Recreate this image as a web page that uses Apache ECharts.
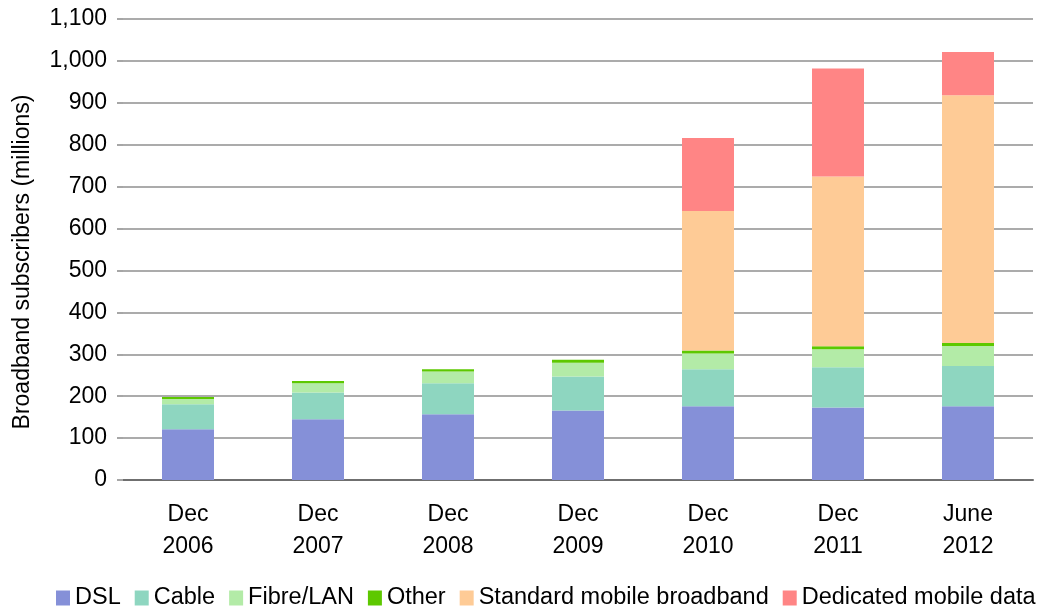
<!DOCTYPE html>
<html>
<head>
<meta charset="utf-8">
<script src="https://cdn.jsdelivr.net/npm/echarts@6/dist/echarts.min.js"></script>
<style>
  html, body { margin: 0; padding: 0; background: #fff; }
  #chart { width: 1041px; height: 607px; }
</style>
</head>
<body>
<div id="chart"></div>
<script>
// Broadband subscribers by technology (millions)
const categories = ['Dec\n2006', 'Dec\n2007', 'Dec\n2008', 'Dec\n2009', 'Dec\n2010', 'Dec\n2011', 'June\n2012'];
const dsl        = [121, 145, 157, 166, 176, 173, 176];
const cable      = [60, 64, 74, 81, 88, 96, 96];
const fibreLan   = [12, 22, 28, 33, 38, 43, 48];
const other      = [5, 5, 5, 7, 7, 7, 7];
const stdMobile  = [0, 0, 0, 0, 333, 405, 591];
const dedMobile  = [0, 0, 0, 0, 174, 258, 103];

const seriesDefs = [
  { name: 'DSL', data: dsl, color: '#8590d8' },
  { name: 'Cable', data: cable, color: '#8ed6c0' },
  { name: 'Fibre/LAN', data: fibreLan, color: '#b3eba7' },
  { name: 'Other', data: other, color: '#5dc800' },
  { name: 'Standard mobile broadband', data: stdMobile, color: '#fecb96' },
  { name: 'Dedicated mobile data', data: dedMobile, color: '#ff8585' }
];

const font = 'Liberation Sans, Arial, Helvetica, sans-serif';
const chart = echarts.init(document.getElementById('chart'));

chart.setOption({
  animation: false,
  backgroundColor: '#ffffff',
  textStyle: { fontFamily: font, color: '#000' },
  grid: { left: 123, right: 8, top: 19, bottom: 127, containLabel: false },
  legend: {
    left: 51,
    top: 581,
    width: 2000,
    itemGap: 14,
    itemWidth: 14,
    itemHeight: 15,
    icon: 'rect',
    textStyle: { fontFamily: font, fontSize: 23.5, color: '#000' },
    data: seriesDefs.map(s => s.name)
  },
  xAxis: {
    type: 'category',
    data: categories,
    axisLine: { show: true, lineStyle: { color: '#6f6f6f', width: 2 } },
    axisTick: { show: false },
    axisLabel: {
      fontFamily: font, fontSize: 23, color: '#000',
      lineHeight: 32, margin: 19, interval: 0
    }
  },
  yAxis: {
    type: 'value',
    min: 0,
    max: 1100,
    interval: 100,
    name: 'Broadband subscribers (millions)',
    nameLocation: 'middle',
    nameRotate: 90,
    nameGap: 89,
    nameTextStyle: { fontFamily: font, fontSize: 23, color: '#000', padding: [0, 25, 0, 0] },
    axisLine: { show: false },
    axisTick: { show: true, length: 6, lineStyle: { color: '#a6a6a6', width: 2 } },
    axisLabel: {
      fontFamily: font, fontSize: 23, color: '#000', margin: 16,
      formatter: v => v.toLocaleString('en-US')
    },
    splitLine: { show: true, lineStyle: { color: '#ababab', width: 2 } }
  },
  series: seriesDefs.map(s => ({
    name: s.name,
    type: 'bar',
    stack: 'total',
    barWidth: '40%',
    itemStyle: { color: s.color },
    data: s.data
  }))
});
</script>
</body>
</html>
